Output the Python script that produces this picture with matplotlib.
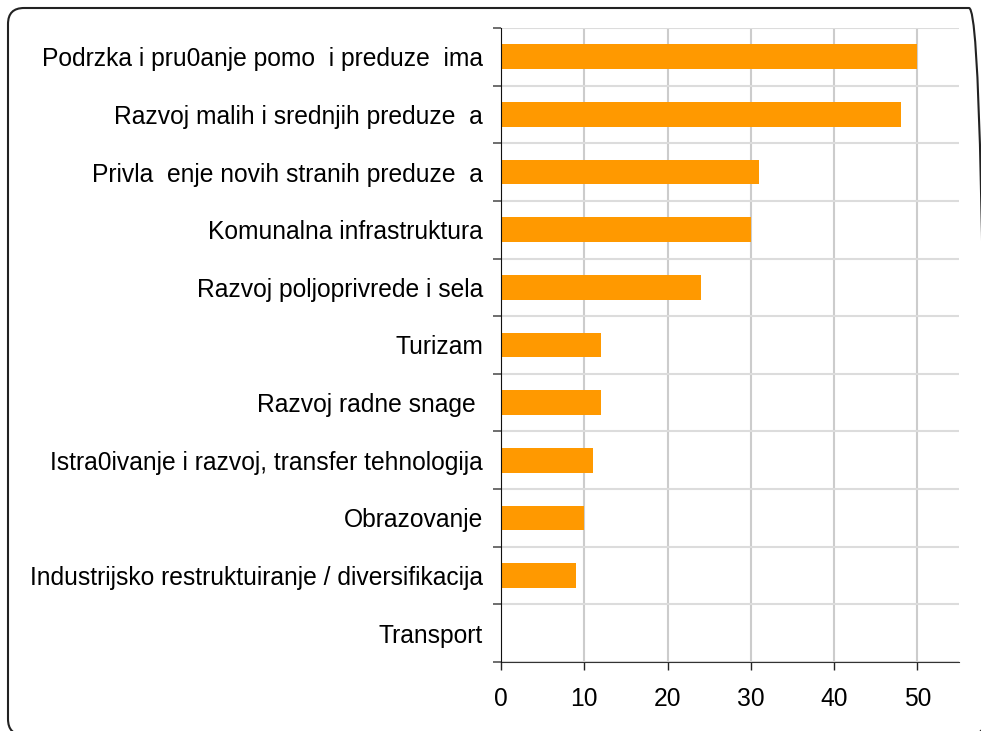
import numpy as np
import matplotlib
matplotlib.use('Agg')
import matplotlib.pyplot as plt
from matplotlib.patches import FancyBboxPatch
from matplotlib.transforms import Affine2D

plt.rcParams['font.family'] = ['Liberation Sans', 'DejaVu Sans']

# categories, top to bottom
categories = ['Podrzka i pru0anje pomo  i preduze  ima',
              'Razvoj malih i srednjih preduze  a',
              'Privla  enje novih stranih preduze  a',
              'Komunalna infrastruktura',
              'Razvoj poljoprivrede i sela',
              'Turizam',
              'Razvoj radne snage ',
              'Istra0ivanje i razvoj, transfer tehnologija',
              'Obrazovanje',
              'Industrijsko restruktuiranje / diversifikacija',
              'Transport']
values = [50, 48, 31, 30, 24, 12, 12, 11, 10, 9, 0]
xticks = [0, 10, 20, 30, 40, 50]

W, H = 981, 731
fig = plt.figure(figsize=(W / 100, H / 100), dpi=100)
ax = fig.add_axes([501 / W, 1 - 662 / H, (959 - 501) / W, (662 - 28) / H])

n = len(categories)
ypos = np.arange(n)[::-1]  # first category on top
ax.barh(ypos, values, height=0.43, color='#FF9900', zorder=3)

ax.set_xlim(0, 55)
ax.set_ylim(-0.5, n - 0.5)

ax.set_xticks(xticks)
ax.set_xticklabels([str(t) for t in xticks], fontsize=17.7)
ax.set_yticks(ypos)
ax.set_yticklabels(categories, fontsize=17.7)
ax.set_yticks(np.arange(-0.5, n, 1.0), minor=True)

ax.tick_params(axis='y', which='major', length=0, pad=13)
ax.tick_params(axis='y', which='minor', length=6, width=1.2, color='#555555')
ax.tick_params(axis='x', which='major', length=6, width=1.0, color='#222222', pad=12)

# grid: vertical on values, horizontal at category boundaries
ax.grid(axis='x', which='major', color='#cccccc', linewidth=1.5, zorder=0)
ax.grid(axis='y', which='minor', color='#dcdcdc', linewidth=1.5, zorder=0)
ax.grid(axis='y', which='major', visible=False)

for s in ['top', 'right']:
    ax.spines[s].set_visible(False)
ax.spines['left'].set_color('#111111')
ax.spines['bottom'].set_color('#333333')
ax.spines['left'].set_zorder(4)

# rounded frame round the figure, in image pixels (runs off the right and bottom edges)
px = Affine2D().scale(1 / W, 1 / H) + fig.transFigure
x0, y_top, x1, y_bot = 8, 8, 985, 735
frame = FancyBboxPatch((x0, H - y_bot), x1 - x0, y_bot - y_top,
                       boxstyle='round,pad=0,rounding_size=16',
                       transform=px, fill=False,
                       edgecolor='#222222', linewidth=1.5, clip_on=False)
fig.patches.append(frame)

fig.savefig('out.png', dpi=100)
